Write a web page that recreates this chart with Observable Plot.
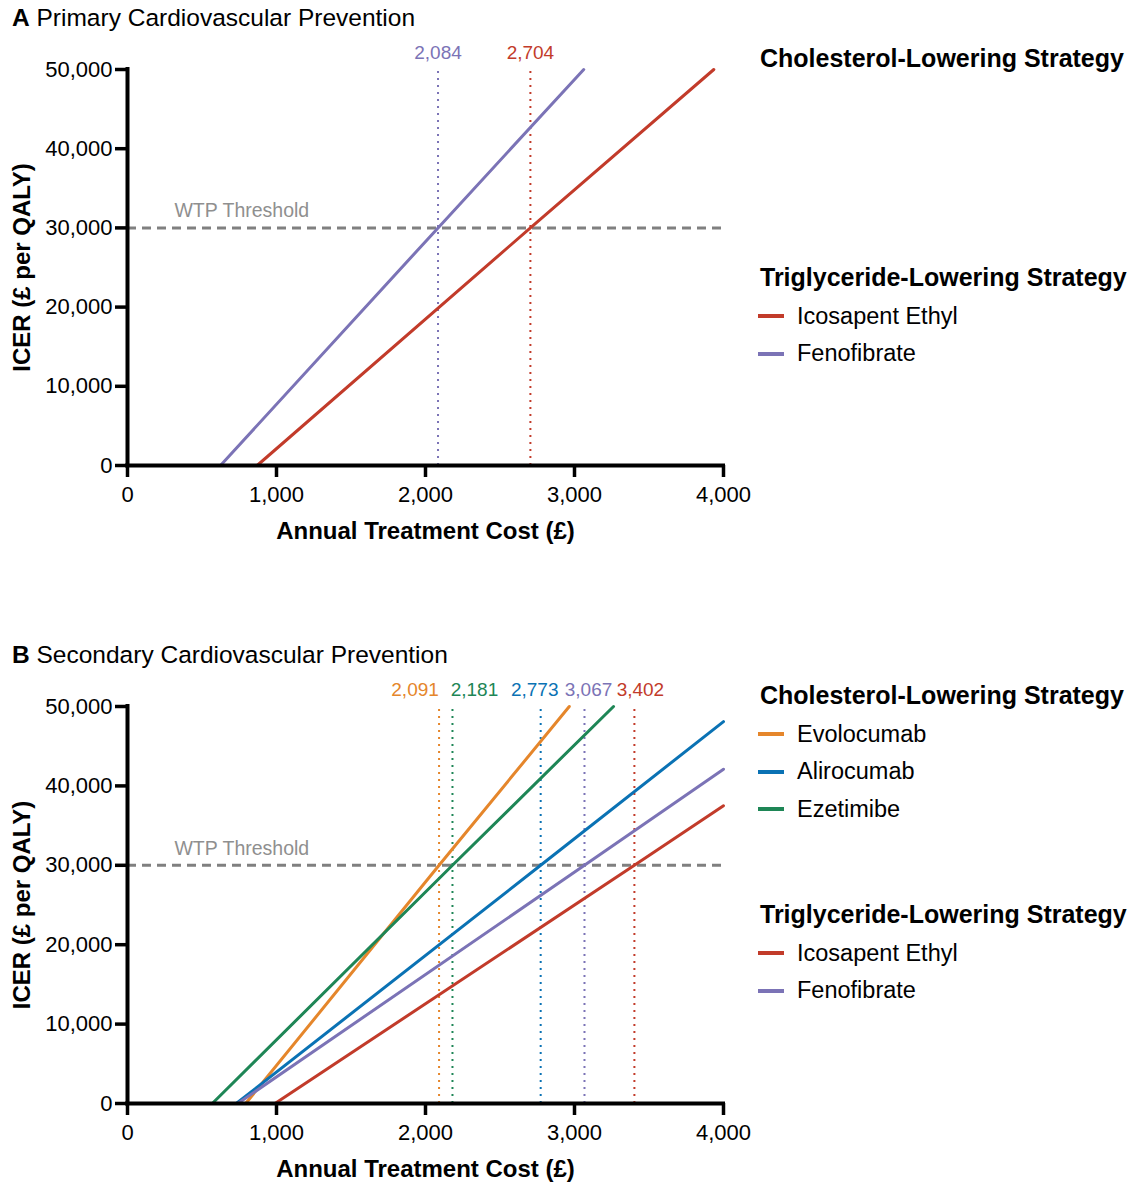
<!DOCTYPE html>
<html>
<head>
<meta charset="utf-8">
<script src="https://cdn.jsdelivr.net/npm/d3@7"></script>
<script src="https://cdn.jsdelivr.net/npm/@observablehq/plot@0.6"></script>
<style>
  html, body { margin: 0; padding: 0; background: #fff; }
  #root { position: relative; width: 1137px; height: 1184px; font-family: "Liberation Sans", Arial, Helvetica, sans-serif; color: #000; overflow: hidden; }
  .abs { position: absolute; white-space: nowrap; line-height: 1; }
  .ptitle { font-size: 24.5px; }
  .ltitle { font-size: 25px; font-weight: bold; }
  .litem { font-size: 23.5px; }
  .swatch { position: absolute; width: 26px; height: 4px; }
  svg { overflow: visible; }
</style>
</head>
<body>
<div id="root"></div>
<script>
// ---------- shared axis data ----------
const xTicks = [0, 1000, 2000, 3000, 4000];
const yTicks = [0, 10000, 20000, 30000, 40000, 50000];
const wtpValue = 30000;
const xTitle = "Annual Treatment Cost (£)";
const yTitle = "ICER (£ per QALY)";

// ---------- colours ----------
const seriesColors = {
  "Icosapent Ethyl": "#C23B2A",
  "Fenofibrate": "#7B73B6",
  "Evolocumab": "#E5862B",
  "Alirocumab": "#0A72B4",
  "Ezetimibe": "#1E8656"
};

// ---------- Panel A: Primary prevention ----------
const aNames      = ["Icosapent Ethyl", "Fenofibrate"];
const aIntercepts = [870, 624];          // annual cost where ICER = 0
const aThresholds = [2704, 2084];        // annual cost where ICER = WTP
const aEndCost    = [3935, 3062];        // last visible point (cost)
const aEndIcer    = [50000, 50000];      // last visible point (ICER)
const aCholLegend = [];
const aTrigLegend = ["Icosapent Ethyl", "Fenofibrate"];

// ---------- Panel B: Secondary prevention ----------
const bNames      = ["Evolocumab", "Ezetimibe", "Alirocumab", "Fenofibrate", "Icosapent Ethyl"];
const bIntercepts = [793, 569, 730, 740, 990];
const bThresholds = [2091, 2181, 2773, 3067, 3402];
const bEndCost    = [2965, 3262, 4000, 4000, 4000];
const bEndIcer    = [50000, 50000, 48100, 42100, 37500];
const bCholLegend = ["Evolocumab", "Alirocumab", "Ezetimibe"];
const bTrigLegend = ["Icosapent Ethyl", "Fenofibrate"];

// ---------- layout (pixels) ----------
const layoutA = { top: 30, height: 540, marginBottom: 105, labelDx: [0, 0],
  title: { top: 6 }, chol: { top: 46 }, trig: { top: 265 } };
const layoutB = { top: 667, height: 517, marginBottom: 81, labelDx: [-24, 22, -6, 4, 6],
  title: { top: 643 }, chol: { top: 683 }, trig: { top: 902 } };

const fmt = d3.format(",");
const root = document.getElementById("root");

function makePanel(names, intercepts, thresholds, endCost, endIcer, layout) {
  const rows = names.map((name, i) => ({ name, threshold: thresholds[i] }));
  const points = [];
  names.forEach((name, i) => {
    points.push({ name, x: intercepts[i], y: 0 });
    points.push({ name, x: thresholds[i], y: wtpValue });
    points.push({ name, x: endCost[i], y: endIcer[i] });
  });
  const labelMarks = rows.map((r, i) => Plot.text([r], {
    x: "threshold", y: 50000, text: d => fmt(d.threshold), dy: -17, dx: layout.labelDx[i],
    fill: seriesColors[r.name], fontSize: 19
  }));
  const plot = Plot.plot({
    width: 760, height: layout.height,
    marginLeft: 127, marginRight: 37, marginTop: 39, marginBottom: layout.marginBottom,
    x: { domain: [0, 4000] },
    y: { domain: [0, 50000] },
    color: { domain: Object.keys(seriesColors), range: Object.values(seriesColors) },
    style: { fontFamily: "'Liberation Sans', Arial, Helvetica, sans-serif", color: "#000", background: "transparent", overflow: "visible" },
    marks: [
      Plot.ruleY([wtpValue], { stroke: "#808080", strokeWidth: 3, strokeDasharray: "9,6" }),
      Plot.text(["WTP Threshold"], { x: 315, y: wtpValue, dy: -17, textAnchor: "start", fill: "#8f8f8f", fontSize: 19.5 }),
      Plot.ruleX(rows, { x: "threshold", y1: 0, y2: 50000, stroke: "name", strokeWidth: 2, strokeDasharray: "2,5" }),
      ...labelMarks,
      Plot.line(points, { x: "x", y: "y", z: "name", stroke: "name", strokeWidth: 3 }),
      Plot.ruleY([0], { stroke: "#000", strokeWidth: 4, strokeLinecap: "square" }),
      Plot.ruleX([0], { y1: 0, y2: 50000, stroke: "#000", strokeWidth: 4, strokeLinecap: "square" }),
      Plot.axisX({ ticks: xTicks, tickSize: 12, tickPadding: 9, tickFormat: fmt, fontSize: 22, strokeWidth: 3.5, label: null }),
      Plot.axisY({ ticks: yTicks, tickSize: 12, tickPadding: 3, tickFormat: fmt, fontSize: 22, strokeWidth: 3.5, label: null }),
      Plot.text([xTitle], { frameAnchor: "bottom", dy: 66, lineAnchor: "middle", fontWeight: "bold", fontSize: 24 }),
      Plot.text([yTitle], { frameAnchor: "left", dx: -105, rotate: -90, textAnchor: "middle", lineAnchor: "middle", fontWeight: "bold", fontSize: 24 })
    ]
  });
  plot.style.position = "absolute";
  plot.style.left = "0px";
  plot.style.top = layout.top + "px";
  root.appendChild(plot);
}

function addText(cls, html, left, top) {
  const d = document.createElement("div");
  d.className = "abs " + cls;
  d.innerHTML = html;
  d.style.left = left + "px";
  d.style.top = top + "px";
  root.appendChild(d);
}

function addLegend(title, items, top) {
  addText("ltitle", title, 760, top);
  items.forEach((name, i) => {
    const cy = top + 12 + 39 + i * 37.5;
    const s = document.createElement("div");
    s.className = "swatch";
    s.style.left = "758px";
    s.style.top = (cy - 2) + "px";
    s.style.background = seriesColors[name];
    root.appendChild(s);
    addText("litem", name, 797, cy - 11.5);
  });
}

// Panel A
addText("ptitle", "<b>A</b> Primary Cardiovascular Prevention", 12, layoutA.title.top);
makePanel(aNames, aIntercepts, aThresholds, aEndCost, aEndIcer, layoutA);
addLegend("Cholesterol-Lowering Strategy", aCholLegend, layoutA.chol.top);
addLegend("Triglyceride-Lowering Strategy", aTrigLegend, layoutA.trig.top);

// Panel B
addText("ptitle", "<b>B</b> Secondary Cardiovascular Prevention", 12, layoutB.title.top);
makePanel(bNames, bIntercepts, bThresholds, bEndCost, bEndIcer, layoutB);
addLegend("Cholesterol-Lowering Strategy", bCholLegend, layoutB.chol.top);
addLegend("Triglyceride-Lowering Strategy", bTrigLegend, layoutB.trig.top);
</script>
</body>
</html>
